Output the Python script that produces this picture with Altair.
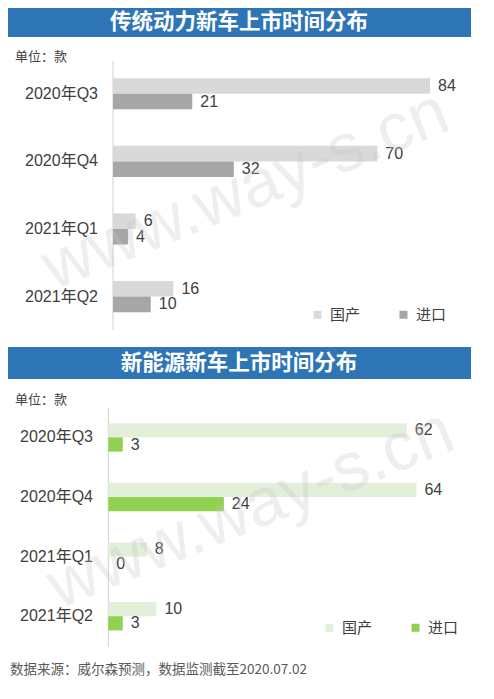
import altair as alt
import pandas as pd

# ---------------- data ----------------
categories = ["2020年Q3", "2020年Q4", "2021年Q1", "2021年Q2"]
series = ["国产", "进口"]
trad_domestic = [84, 70, 6, 16]
trad_import = [21, 32, 4, 10]
nev_domestic = [62, 64, 8, 10]
nev_import = [3, 24, 0, 3]

title_trad = "传统动力新车上市时间分布"
title_nev = "新能源新车上市时间分布"
unit_text = "单位：款"
source_text = "数据来源：威尔森预测，数据监测截至2020.07.02"
watermark = "www.way-s.cn"

FONT = "Liberation Sans, Noto Sans CJK SC, sans-serif"
CJK = "Noto Sans CJK SC, Liberation Sans, sans-serif"
TXT = "#404040"
BANNER = "#2E75B6"
ONE = alt.Data(values=[{}])


def long_df(dom, imp):
    rows = []
    for c, d, i in zip(categories, dom, imp):
        rows.append({"cat": c, "type": series[0], "v": d})
        rows.append({"cat": c, "type": series[1], "v": i})
    return pd.DataFrame(rows)


def panel(df, colors, yrange, pad_in, x0, ppu, label_x, rule_y, lx, ly):
    xs = alt.Scale(domain=[0, 100], range=[x0, x0 + 100 * ppu])
    ys = alt.Scale(domain=categories, range=yrange,
                   paddingInner=pad_in, paddingOuter=pad_in / 2)
    yo = alt.Scale(domain=series, paddingInner=0.0)
    base = alt.Chart(df)
    enc = dict(
        x=alt.X("v:Q", scale=xs, axis=None),
        y=alt.Y("cat:N", scale=ys, axis=None, sort=categories),
        yOffset=alt.YOffset("type:N", scale=yo, sort=series),
    )
    bars = base.mark_bar().encode(
        color=alt.Color(
            "type:N",
            scale=alt.Scale(domain=series, range=colors),
            legend=alt.Legend(
                orient="none", legendX=lx, legendY=ly, direction="horizontal",
                title=None, symbolType="square", symbolSize=64,
                symbolStrokeWidth=0, labelFontSize=15, labelOffset=5,
                columnPadding=35, padding=0, labelColor=TXT, labelFont=CJK,
            ),
        ),
        **enc,
    )
    values = base.mark_text(
        align="left", baseline="middle", dx=8, fontSize=16, font=FONT, color=TXT
    ).encode(text="v:Q", **enc)
    labels = alt.Chart(pd.DataFrame({"cat": categories})).mark_text(
        align="right", baseline="middle", fontSize=16, font=FONT, color=TXT
    ).encode(
        y=alt.Y("cat:N", scale=ys, axis=None, sort=categories),
        x=alt.value(label_x),
        text="cat:N",
    )
    rule = alt.Chart(ONE).mark_rule(color="#D0D0D0", strokeWidth=1).encode(
        x=alt.X(datum=0, type="quantitative", scale=xs, axis=None),
        y=alt.value(rule_y[0]),
        y2=alt.value(rule_y[1]),
    )
    return alt.layer(rule, bars, values, labels)


def banner(y0, y1, title):
    rect = alt.Chart(ONE).mark_rect(color=BANNER).encode(
        x=alt.value(0), x2=alt.value(463), y=alt.value(y0), y2=alt.value(y1)
    )
    txt = alt.Chart(ONE).mark_text(
        text=title, fontSize=21.5, fontWeight="bold", font=CJK, color="white",
        align="center", baseline="middle",
    ).encode(x=alt.value(231), y=alt.value((y0 + y1) / 2 + 0.5))
    return alt.layer(rect, txt)


def label(text, x, y, size, color):
    return alt.Chart(ONE).mark_text(
        text=text, fontSize=size, font=CJK, color=color,
        align="left", baseline="middle",
    ).encode(x=alt.value(x), y=alt.value(y))


def wm(x, y):
    return alt.Chart(ONE).mark_text(
        text=watermark, fontSize=68, font="Liberation Sans, sans-serif",
        color="#C8C8C8", opacity=0.3, angle=338,
        align="center", baseline="middle",
    ).encode(x=alt.value(x), y=alt.value(y))


top = panel(long_df(trad_domestic, trad_import), ["#D9D9D9", "#A6A6A6"],
            [52, 322.4], 0.54, 105, 3.775, 90, (53, 322), 302, 299)
bottom = panel(long_df(nev_domestic, nev_import), ["#E2F0D9", "#92D050"],
               [399.6, 638], 0.523, 100.3, 4.815, 85, (400, 639), 314, 612)

chart = alt.layer(
    banner(0, 29, title_trad),
    label(unit_text, 7, 49, 13, TXT),
    top,
    banner(339, 371, title_nev),
    label(unit_text, 7, 392, 13, TXT),
    bottom,
    label(source_text, 2, 662, 13.5, "#595959"),
    wm(238, 183),
    wm(243, 502),
).resolve_scale(
    x="independent", y="independent", color="independent", yOffset="independent"
).properties(
    width=478, height=683, autosize=alt.AutoSizeParams(type="none"), padding=0
).configure_view(stroke=None)

chart.save("out.html", embed_options={"renderer": "svg", "actions": False})
